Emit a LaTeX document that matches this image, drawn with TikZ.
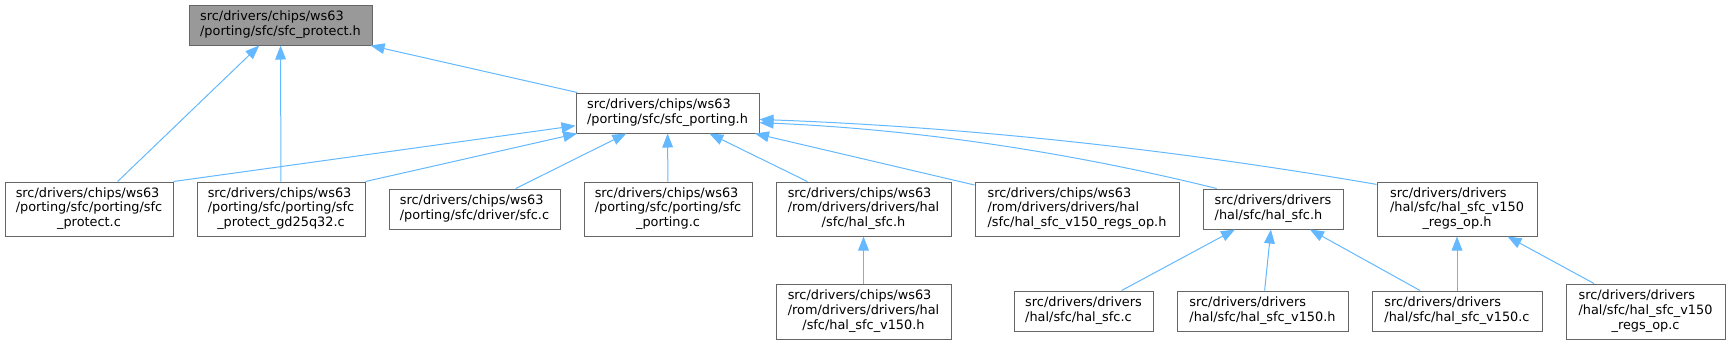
\documentclass[tikz,border=0pt]{standalone}
\usepackage{fontspec}
\setmainfont{DejaVu Sans}
\usetikzlibrary{arrows.meta}
\definecolor{inclblue}{HTML}{63B8FF}
\definecolor{boxline}{HTML}{666666}
\definecolor{rootgray}{HTML}{999999}
\newcommand{\flines}[1]{\begin{tabular}{@{}l@{}}#1\end{tabular}}
\newcommand{\midln}[1]{\multicolumn{1}{@{}c@{}}{#1}}
\tikzset{
  srcbox/.style 2 args={draw=boxline,fill=white,line width=0.75pt,inner sep=0pt,
    minimum width=#1*0.75pt,minimum height=#2*0.75pt,
    font=\fontsize{9.65}{11}\selectfont},
  incl/.style={-{Triangle[length=10.5pt,width=8pt]},draw=inclblue,line width=0.75pt},
}

\begin{document}
\begin{tikzpicture}[x=0.75pt,y=-0.75pt]
  \useasboundingbox (0,0) rectangle (1730,344);
  % headers
  \node[srcbox={183}{40},fill=rootgray] (root) at (280.5,25)
    {\flines{src/drivers/chips/ws63\\/porting/sfc/sfc\_protect.h}};
  \node[srcbox={183}{40}] (porting_h) at (667.5,113)
    {\flines{src/drivers/chips/ws63\\/porting/sfc/sfc\_porting.h}};
  % second row
  \node[srcbox={168}{54}] (protect_c) at (89,209)
    {\flines{src/drivers/chips/ws63\\/porting/sfc/porting/sfc\\\midln{\_protect.c}}};
  \node[srcbox={168}{54}] (gd25_c) at (281,209)
    {\flines{src/drivers/chips/ws63\\/porting/sfc/porting/sfc\\\midln{\_protect\_gd25q32.c}}};
  \node[srcbox={171}{40}] (drv_sfc_c) at (474.5,209)
    {\flines{src/drivers/chips/ws63\\/porting/sfc/driver/sfc.c}};
  \node[srcbox={168}{54}] (porting_c) at (668,209)
    {\flines{src/drivers/chips/ws63\\/porting/sfc/porting/sfc\\\midln{\_porting.c}}};
  \node[srcbox={175}{54}] (rom_hal_h) at (863.5,209)
    {\flines{src/drivers/chips/ws63\\/rom/drivers/drivers/hal\\\midln{/sfc/hal\_sfc.h}}};
  \node[srcbox={204}{54}] (rom_regs_h) at (1077,209)
    {\flines{src/drivers/chips/ws63\\/rom/drivers/drivers/hal\\/sfc/hal\_sfc\_v150\_regs\_op.h}};
  \node[srcbox={140}{40}] (hal_h) at (1273,209)
    {\flines{src/drivers/drivers\\/hal/sfc/hal\_sfc.h}};
  \node[srcbox={160}{54}] (regs_h) at (1457,209)
    {\flines{src/drivers/drivers\\/hal/sfc/hal\_sfc\_v150\\\midln{\_regs\_op.h}}};
  % third row
  \node[srcbox={175}{55}] (rom_v150_h) at (863.5,311.5)
    {\flines{src/drivers/chips/ws63\\/rom/drivers/drivers/hal\\\midln{/sfc/hal\_sfc\_v150.h}}};
  \node[srcbox={139}{40}] (hal_c) at (1083.5,311)
    {\flines{src/drivers/drivers\\/hal/sfc/hal\_sfc.c}};
  \node[srcbox={171}{40}] (v150_h) at (1262.5,311)
    {\flines{src/drivers/drivers\\/hal/sfc/hal\_sfc\_v150.h}};
  \node[srcbox={170}{40}] (v150_c) at (1457,311)
    {\flines{src/drivers/drivers\\/hal/sfc/hal\_sfc\_v150.c}};
  \node[srcbox={159}{55}] (regs_c) at (1645.5,311.5)
    {\flines{src/drivers/drivers\\/hal/sfc/hal\_sfc\_v150\\\midln{\_regs\_op.c}}};
  % include edges
  \draw[incl] (protect_c) -- (root);
  \draw[incl] (gd25_c) -- (root);
  \draw[incl] (porting_h) -- (root);
  \draw[incl] (protect_c.north east) -- (porting_h);
  \draw[incl] (gd25_c.north east) -- (porting_h);
  \draw[incl] (drv_sfc_c) -- (porting_h);
  \draw[incl] (porting_c) -- (porting_h);
  \draw[incl] (rom_hal_h) -- (porting_h);
  \draw[incl] (rom_regs_h) -- (porting_h);
  \draw[incl] (hal_h.160) .. controls (1065,151) and (912,129) .. (porting_h.354);
  \draw[incl] (regs_h.163) .. controls (1171,149) and (966,127) .. (porting_h.356);
  \draw[incl] (rom_v150_h) -- (rom_hal_h);
  \draw[incl] (hal_c) -- (hal_h);
  \draw[incl] (v150_h) -- (hal_h);
  \draw[incl] (v150_c) -- (hal_h);
  \draw[incl] (v150_c) -- (regs_h);
  \draw[incl] (regs_c) -- (regs_h);
\end{tikzpicture}
\end{document}
